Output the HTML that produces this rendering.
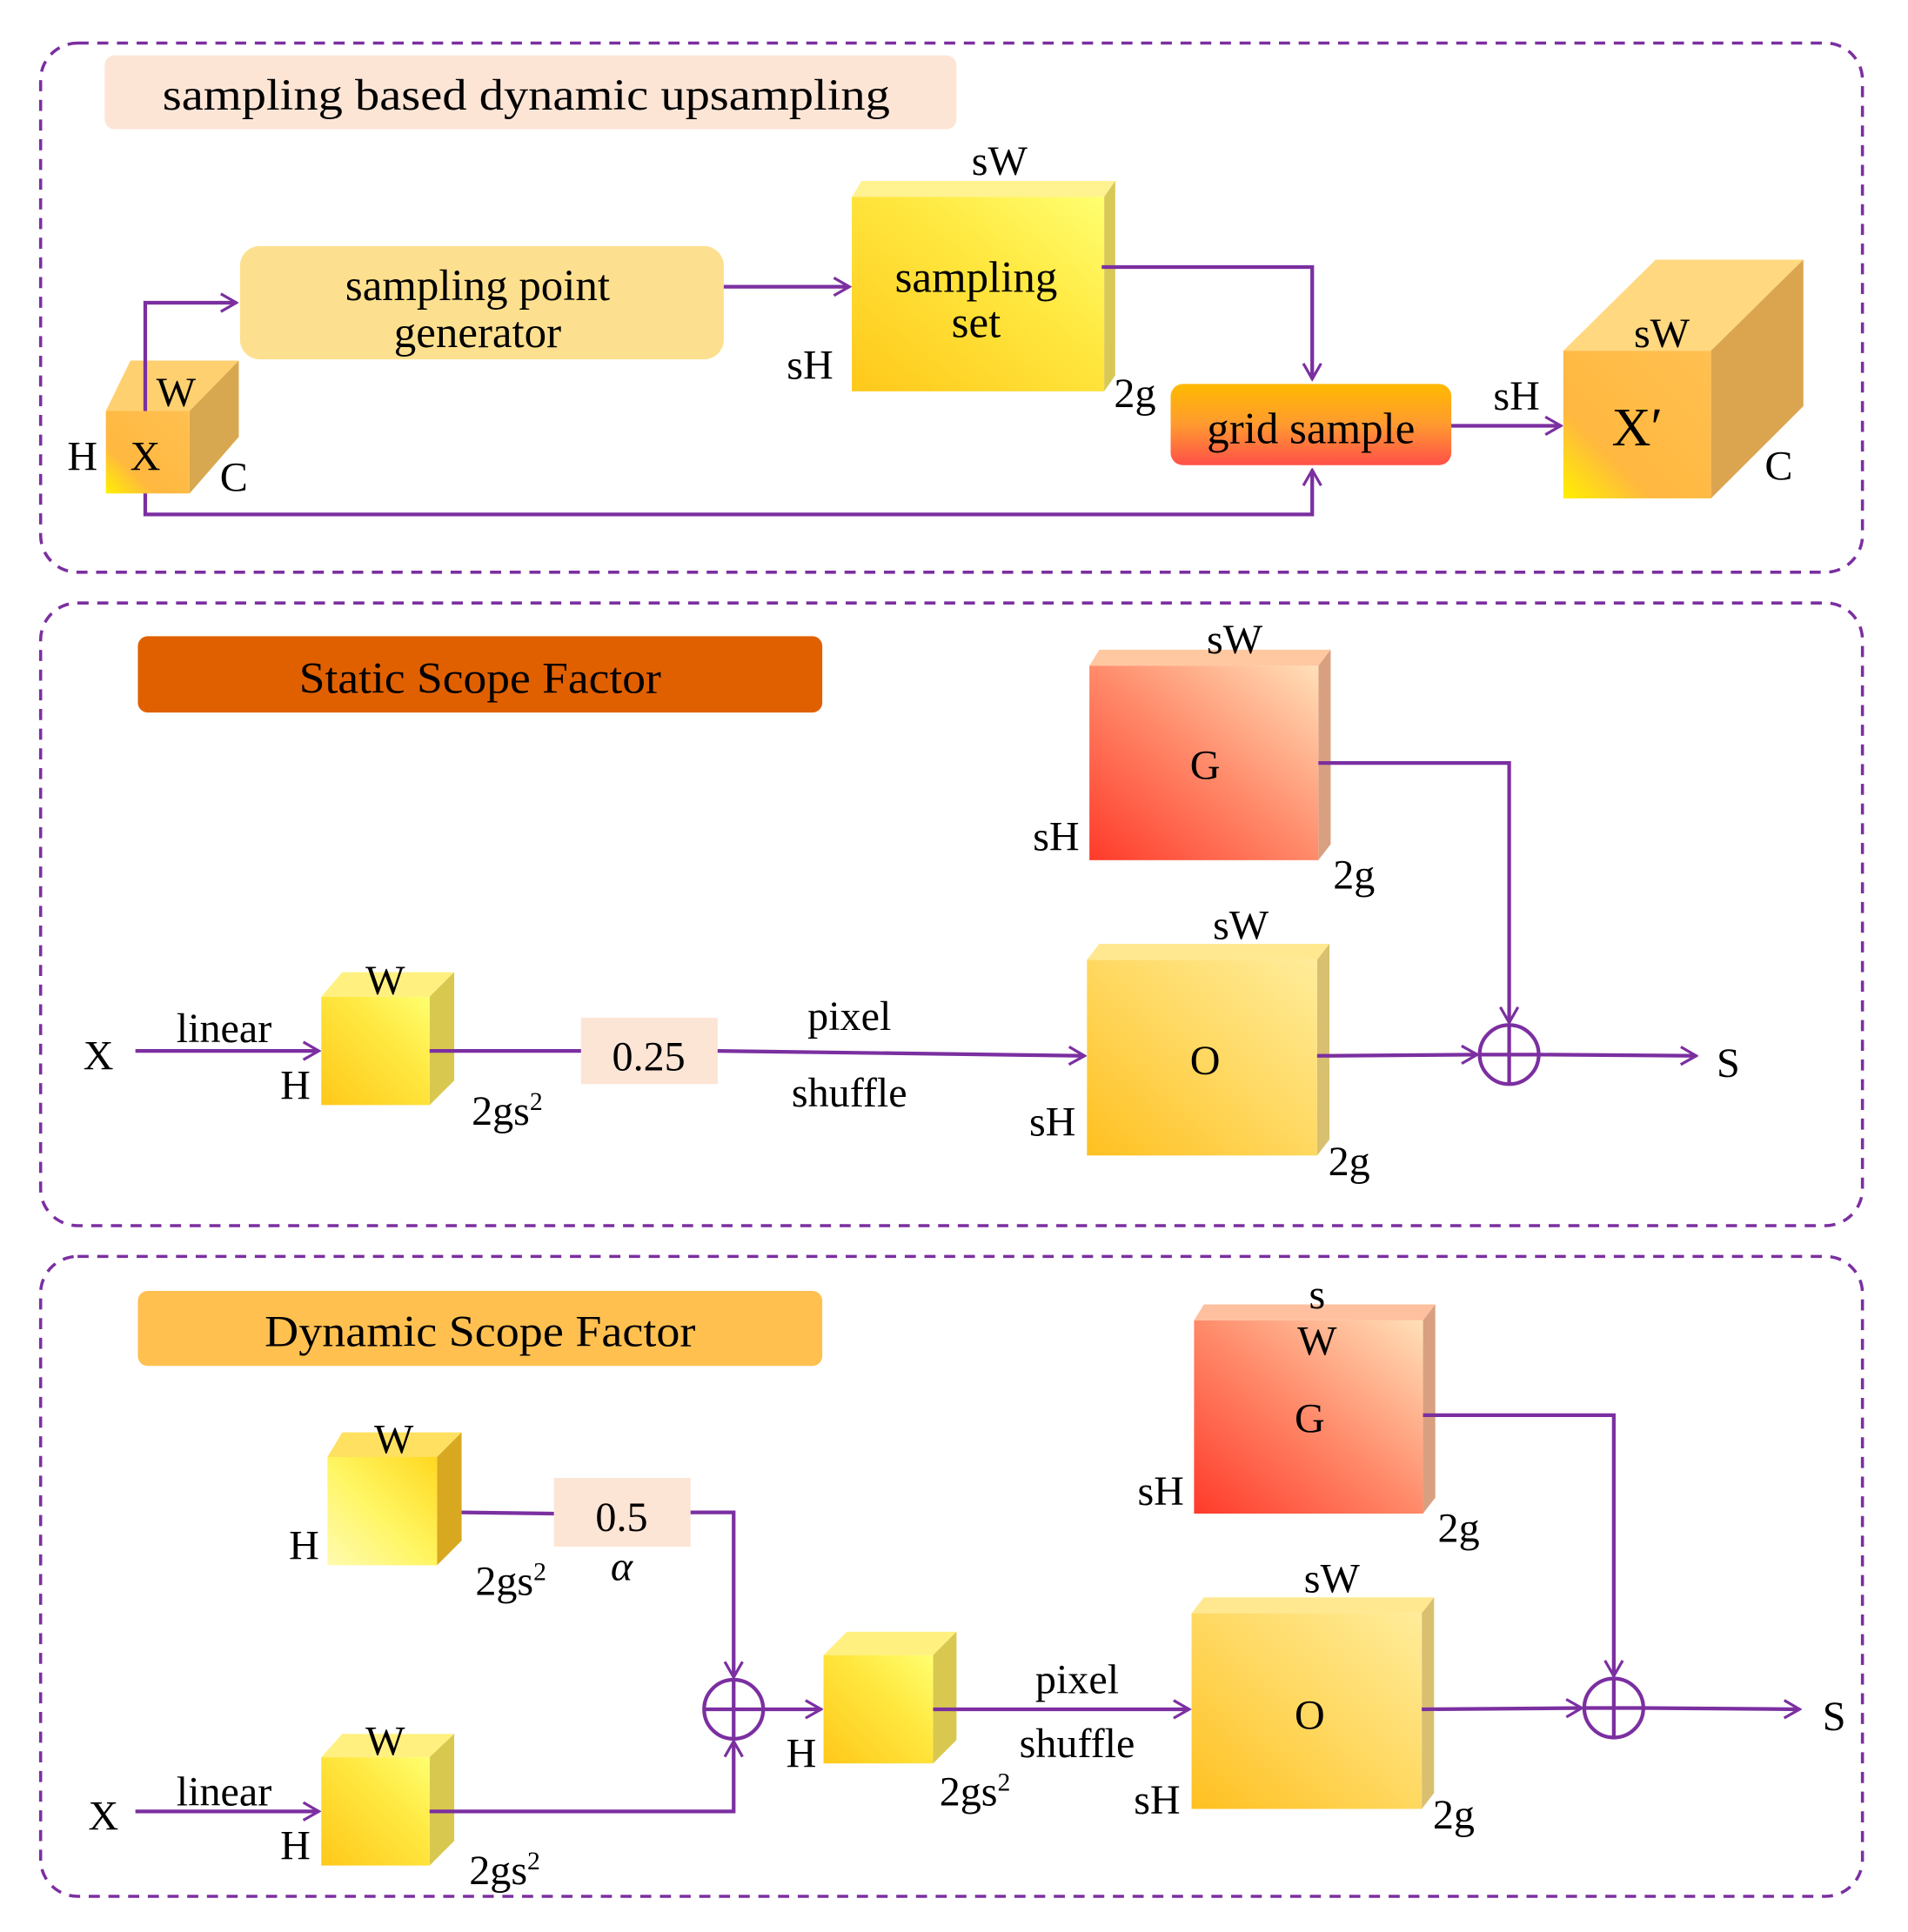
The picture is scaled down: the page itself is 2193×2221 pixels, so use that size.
<!DOCTYPE html>
<html><head><meta charset="utf-8"><style>
html,body{margin:0;padding:0;background:#fff}
svg{display:block}
text{font-family:"Liberation Serif",serif;fill:#000}
</style></head><body>
<svg width="2193" height="2221" viewBox="0 0 1550 1570" preserveAspectRatio="none" xmlns="http://www.w3.org/2000/svg">
<defs>
<marker id="a" viewBox="0 0 20 20" refX="18" refY="10" markerWidth="18" markerHeight="18" markerUnits="userSpaceOnUse" orient="auto">
<polyline points="4,2 18,10 4,18" fill="none" stroke="#7b2fa0" stroke-width="2.5"/></marker>
<linearGradient id="yel" x1="0" y1="1" x2="1" y2="0"><stop offset="0" stop-color="#ffc81a"/><stop offset="0.6" stop-color="#ffe840"/><stop offset="1" stop-color="#ffff70"/></linearGradient>
<linearGradient id="yelL" x1="0" y1="1" x2="1" y2="0"><stop offset="0" stop-color="#fffbb0"/><stop offset="0.5" stop-color="#fff560"/><stop offset="1" stop-color="#ffd820"/></linearGradient>
<linearGradient id="org" x1="0" y1="1" x2="1" y2="0"><stop offset="0" stop-color="#fff000"/><stop offset="0.3" stop-color="#ffb840"/><stop offset="1" stop-color="#ffc050"/></linearGradient>
<linearGradient id="oo" x1="0" y1="1" x2="1" y2="0"><stop offset="0" stop-color="#ffc020"/><stop offset="0.5" stop-color="#ffd860"/><stop offset="1" stop-color="#ffec9a"/></linearGradient>
<linearGradient id="red" x1="0" y1="1" x2="1" y2="0"><stop offset="0" stop-color="#ff3a2a"/><stop offset="0.5" stop-color="#ff8a6a"/><stop offset="1" stop-color="#ffe0b8"/></linearGradient>
<linearGradient id="grid" x1="0" y1="0" x2="0" y2="1"><stop offset="0" stop-color="#ffba00"/><stop offset="0.5" stop-color="#ff9a30"/><stop offset="1" stop-color="#ff5048"/></linearGradient>
</defs>
<g fill="none" stroke="#7b2fa0" stroke-width="2.5" stroke-dasharray="9,7">
<rect x="33" y="35" width="1480" height="430" rx="30"/>
<rect x="33" y="490" width="1480" height="506" rx="30"/>
<rect x="33" y="1021" width="1480" height="520" rx="30"/>
</g>
<!-- panel 1 -->
<rect x="85" y="45" width="692" height="60" rx="8" fill="#fde5d6"/>
<text x="132" y="89" font-size="36" textLength="591" lengthAdjust="spacingAndGlyphs">sampling based dynamic upsampling</text>
<rect x="195" y="200" width="393" height="92" rx="16" fill="#fde08f"/>
<text x="388" y="244" font-size="36" text-anchor="middle">sampling point</text>
<text x="388" y="282" font-size="36" text-anchor="middle">generator</text>
<polygon points="692,160 700,147 906,147 897,160" fill="#fff290"/>
<polygon points="897,160 906,147 906,305 897,318" fill="#d8c858"/>
<rect x="692" y="160" width="205" height="158" fill="url(#yel)"/>
<text x="793" y="237" font-size="36" text-anchor="middle">sampling</text>
<text x="793" y="274" font-size="36" text-anchor="middle">set</text>
<text x="812" y="142" font-size="34" text-anchor="middle">sW</text>
<text x="658" y="308" font-size="34" text-anchor="middle">sH</text>
<text x="922" y="331" font-size="34" text-anchor="middle">2g</text>
<rect x="951" y="312" width="228" height="66" rx="10" fill="url(#grid)"/>
<text x="1065" y="360" font-size="36" text-anchor="middle">grid sample</text>
<polygon points="86,334 106,293 194,293 154,334" fill="#ffd070"/>
<polygon points="154,334 194,293 194,355 154,401" fill="#d8a850"/>
<rect x="86" y="334" width="68" height="67" fill="url(#org)"/>
<text x="143" y="330" font-size="34" text-anchor="middle">W</text>
<text x="67" y="382" font-size="34" text-anchor="middle">H</text>
<text x="118" y="382" font-size="34" text-anchor="middle">X</text>
<text x="190" y="399" font-size="34" text-anchor="middle">C</text>
<polygon points="1270,285 1345,211 1465,211 1390,285" fill="#ffd880"/>
<polygon points="1390,285 1465,211 1465,330 1390,405" fill="#dba550"/>
<rect x="1270" y="285" width="120" height="120" fill="url(#org)"/>
<text x="1350" y="282" font-size="34" text-anchor="middle">sW</text>
<text x="1330" y="362" font-size="44" text-anchor="middle">X′</text>
<text x="1445" y="390" font-size="34" text-anchor="middle">C</text>
<text x="1232" y="333" font-size="34" text-anchor="middle">sH</text>
<g fill="none" stroke="#7b2fa0" stroke-width="3">
<polyline points="588,233 690,233" marker-end="url(#a)"/>
<polyline points="895,217 1066,217 1066,308" marker-end="url(#a)"/>
<polyline points="118,334 118,246 192,246" marker-end="url(#a)"/>
<polyline points="118,401 118,418 1066,418 1066,382" marker-end="url(#a)"/>
<polyline points="1179,346 1268,346" marker-end="url(#a)"/>
</g>
<!-- panel 2 -->
<rect x="112" y="517" width="556" height="62" rx="8" fill="#e06000"/>
<text x="243" y="563" font-size="36" textLength="294" lengthAdjust="spacingAndGlyphs">Static Scope Factor</text>
<polygon points="885,541 893,528 1081,528 1071,541" fill="#ffc8a0"/>
<polygon points="1071,541 1081,528 1081,686 1071,699" fill="#d8a080"/>
<rect x="885" y="541" width="186" height="158" fill="url(#red)"/>
<text x="979" y="633" font-size="34" text-anchor="middle">G</text>
<text x="1003" y="531" font-size="34" text-anchor="middle">sW</text>
<text x="858" y="691" font-size="34" text-anchor="middle">sH</text>
<text x="1100" y="722" font-size="34" text-anchor="middle">2g</text>
<polygon points="883,780 893,767 1080,767 1070,780" fill="#ffe890"/>
<polygon points="1070,780 1080,767 1080,926 1070,939" fill="#d8c070"/>
<rect x="883" y="780" width="187" height="159" fill="url(#oo)"/>
<text x="979" y="873" font-size="34" text-anchor="middle">O</text>
<text x="1008" y="763" font-size="34" text-anchor="middle">sW</text>
<text x="855" y="923" font-size="34" text-anchor="middle">sH</text>
<text x="1096" y="955" font-size="34" text-anchor="middle">2g</text>
<polygon points="261,810 278,790 369,790 349,810" fill="#fff080"/>
<polygon points="349,810 369,790 369,878 349,898" fill="#d8c850"/>
<rect x="261" y="810" width="88" height="88" fill="url(#yel)"/>
<text x="313" y="808" font-size="34" text-anchor="middle">W</text>
<text x="240" y="893" font-size="34" text-anchor="middle">H</text>
<text x="412" y="914" font-size="34" text-anchor="middle">2gs<tspan font-size="21" dy="-12">2</tspan></text>
<text x="80" y="869" font-size="34" text-anchor="middle">X</text>
<text x="182" y="847" font-size="34" text-anchor="middle">linear</text>
<rect x="472" y="827" width="111" height="54" fill="#fde5d6"/>
<text x="527" y="870" font-size="34" text-anchor="middle">0.25</text>
<text x="690" y="837" font-size="34" text-anchor="middle">pixel</text>
<text x="690" y="899" font-size="34" text-anchor="middle">shuffle</text>
<text x="1404" y="875" font-size="34" text-anchor="middle">S</text>
<g fill="none" stroke="#7b2fa0" stroke-width="3">
<polyline points="110,854 259,854" marker-end="url(#a)"/>
<polyline points="349,854 472,854"/>
<polyline points="583,854 881,858" marker-end="url(#a)"/>
<polyline points="1070,858 1200,857" marker-end="url(#a)"/>
<polyline points="1071,620 1226,620 1226,831" marker-end="url(#a)"/>
<polyline points="1250,857 1378,858" marker-end="url(#a)"/>
<circle cx="1226" cy="857" r="24"/>
<line x1="1202" y1="857" x2="1250" y2="857"/><line x1="1226" y1="833" x2="1226" y2="881"/>
</g>
<!-- panel 3 -->
<rect x="112" y="1049" width="556" height="61" rx="8" fill="#ffc050"/>
<text x="215" y="1094" font-size="36" textLength="350" lengthAdjust="spacingAndGlyphs">Dynamic Scope Factor</text>
<polygon points="970,1073 978,1060 1166,1060 1156,1073" fill="#ffc0a0"/>
<polygon points="1156,1073 1166,1060 1166,1217 1156,1230" fill="#d8a080"/>
<rect x="970" y="1073" width="186" height="157" fill="url(#red)"/>
<text x="1070" y="1063" font-size="34" text-anchor="middle">s</text>
<text x="1070" y="1101" font-size="34" text-anchor="middle">W</text>
<text x="1064" y="1164" font-size="34" text-anchor="middle">G</text>
<text x="943" y="1223" font-size="34" text-anchor="middle">sH</text>
<text x="1185" y="1253" font-size="34" text-anchor="middle">2g</text>
<polygon points="968,1311 978,1298 1165,1298 1155,1311" fill="#ffe890"/>
<polygon points="1155,1311 1165,1298 1165,1457 1155,1470" fill="#d8c070"/>
<rect x="968" y="1311" width="187" height="159" fill="url(#oo)"/>
<text x="1082" y="1294" font-size="34" text-anchor="middle">sW</text>
<text x="1064" y="1405" font-size="34" text-anchor="middle">O</text>
<text x="940" y="1474" font-size="34" text-anchor="middle">sH</text>
<text x="1181" y="1486" font-size="34" text-anchor="middle">2g</text>
<polygon points="266,1184 278,1164 375,1164 355,1184" fill="#ffe060"/>
<polygon points="355,1184 375,1164 375,1252 355,1272" fill="#d8a820"/>
<rect x="266" y="1184" width="89" height="88" fill="url(#yelL)"/>
<text x="320" y="1181" font-size="34" text-anchor="middle">W</text>
<text x="247" y="1267" font-size="34" text-anchor="middle">H</text>
<text x="415" y="1296" font-size="34" text-anchor="middle">2gs<tspan font-size="21" dy="-12">2</tspan></text>
<rect x="450" y="1201" width="111" height="56" fill="#fde5d6"/>
<text x="505" y="1244" font-size="34" text-anchor="middle">0.5</text>
<text x="505" y="1284" font-size="34" font-style="italic" text-anchor="middle">α</text>
<polygon points="261,1428 278,1409 369,1409 349,1428" fill="#fff080"/>
<polygon points="349,1428 369,1409 369,1496 349,1516" fill="#d8c850"/>
<rect x="261" y="1428" width="88" height="88" fill="url(#yel)"/>
<text x="313" y="1426" font-size="34" text-anchor="middle">W</text>
<text x="240" y="1511" font-size="34" text-anchor="middle">H</text>
<text x="410" y="1531" font-size="34" text-anchor="middle">2gs<tspan font-size="21" dy="-12">2</tspan></text>
<text x="84" y="1487" font-size="34" text-anchor="middle">X</text>
<text x="182" y="1467" font-size="34" text-anchor="middle">linear</text>
<polygon points="669,1345 688,1326 777,1326 758,1345" fill="#fff080"/>
<polygon points="758,1345 777,1326 777,1414 758,1433" fill="#d8c850"/>
<rect x="669" y="1345" width="89" height="88" fill="url(#yel)"/>
<text x="651" y="1436" font-size="34" text-anchor="middle">H</text>
<text x="792" y="1467" font-size="34" text-anchor="middle">2gs<tspan font-size="21" dy="-12">2</tspan></text>
<text x="875" y="1376" font-size="34" text-anchor="middle">pixel</text>
<text x="875" y="1428" font-size="34" text-anchor="middle">shuffle</text>
<text x="1490" y="1406" font-size="34" text-anchor="middle">S</text>
<g fill="none" stroke="#7b2fa0" stroke-width="3">
<polyline points="375,1229 450,1230"/>
<polyline points="561,1229 596,1229 596,1363" marker-end="url(#a)"/>
<polyline points="110,1472 259,1472" marker-end="url(#a)"/>
<polyline points="349,1472 596,1472 596,1415" marker-end="url(#a)"/>
<circle cx="596" cy="1389" r="24"/>
<line x1="572" y1="1389" x2="620" y2="1389"/><line x1="596" y1="1365" x2="596" y2="1413"/>
<polyline points="620,1389 667,1389" marker-end="url(#a)"/>
<polyline points="758,1389 966,1389" marker-end="url(#a)"/>
<polyline points="1155,1389 1285,1388" marker-end="url(#a)"/>
<polyline points="1156,1150 1311,1150 1311,1362" marker-end="url(#a)"/>
<circle cx="1311" cy="1388" r="24"/>
<line x1="1287" y1="1388" x2="1335" y2="1388"/><line x1="1311" y1="1364" x2="1311" y2="1412"/>
<polyline points="1335,1388 1462,1389" marker-end="url(#a)"/>
</g>
</svg>
</body></html>
